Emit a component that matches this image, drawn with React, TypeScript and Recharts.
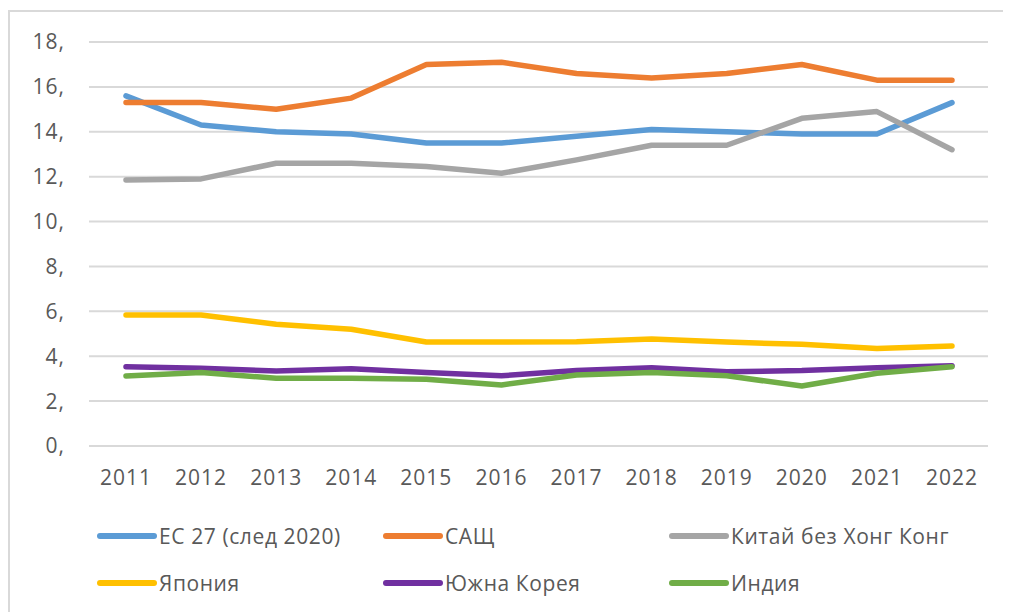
import React from "react";
import { LineChart, Line, XAxis, YAxis, CartesianGrid, Legend } from "recharts";

const years = ["2011", "2012", "2013", "2014", "2015", "2016", "2017", "2018", "2019", "2020", "2021", "2022"];
const eu27 = [15.6, 14.3, 14.0, 13.9, 13.5, 13.5, 13.8, 14.1, 14.0, 13.9, 13.9, 15.3];
const usa = [15.3, 15.3, 15.0, 15.5, 17.0, 17.1, 16.6, 16.4, 16.6, 17.0, 16.3, 16.3];
const china = [11.85, 11.9, 12.6, 12.6, 12.45, 12.15, 12.75, 13.4, 13.4, 14.6, 14.9, 13.2];
const japan = [5.84, 5.84, 5.42, 5.2, 4.63, 4.63, 4.65, 4.77, 4.63, 4.53, 4.34, 4.46];
const korea = [3.53, 3.46, 3.34, 3.44, 3.28, 3.13, 3.36, 3.49, 3.31, 3.36, 3.49, 3.58];
const india = [3.12, 3.27, 3.02, 3.02, 2.97, 2.72, 3.16, 3.28, 3.13, 2.67, 3.24, 3.53];
const yTicks = [0, 2, 4, 6, 8, 10, 12, 14, 16, 18];

const seriesNames = ["ЕС 27 (след 2020)", "САЩ", "Китай без Хонг Конг", "Япония", "Южна Корея", "Индия"];
const seriesKeys = ["eu27", "usa", "china", "japan", "korea", "india"];
const seriesColors = ["#5B9BD5", "#ED7D31", "#A5A5A5", "#FFC000", "#7030A0", "#70AD47"];
const seriesValues = [eu27, usa, china, japan, korea, india];

const data = years.map((y, i) => {
  const row: Record<string, string | number> = { year: y };
  seriesKeys.forEach((k, s) => {
    row[k] = seriesValues[s][i];
  });
  return row;
});

const FONT = "'Open Sans', sans-serif";
const TEXT = "#595959";

const CustomLegend = () => (
  <div style={{ position: "relative", height: 94, fontFamily: FONT }}>
    {seriesNames.map((name, i) => {
      const col = i % 3;
      const row = Math.floor(i / 3);
      return (
        <div
          key={name}
          style={{
            position: "absolute",
            left: 77 + col * 286,
            top: row * 47,
            height: 47,
            display: "flex",
            alignItems: "center",
            whiteSpace: "nowrap",
          }}
        >
          <svg width={62} height={8} style={{ marginRight: 1 }}>
            <line x1={4} y1={4} x2={58} y2={4} stroke={seriesColors[i]} strokeWidth={6} strokeLinecap="round" />
          </svg>
          <span style={{ fontSize: 21, color: TEXT, letterSpacing: 0.6 }}>{name}</span>
        </div>
      );
    })}
  </div>
);

export default function App() {
  return (
    <div
      style={{
        marginTop: 2,
        borderTop: "2px solid #d9d9d9",
        borderLeft: "2px solid #d9d9d9",
        width: 1001,
        height: 600,
        background: "#fff",
      }}
    >
      <LineChart
        width={1001}
        height={600}
        data={data}
        margin={{ top: 30, right: 23, bottom: 6, left: 9 }}
      >
        <CartesianGrid vertical={false} stroke="#d9d9d9" strokeWidth={2} />
        <XAxis
          dataKey="year"
          axisLine={false}
          tickLine={false}
          height={66}
          tickSize={6}
          tickMargin={18}
          padding={{ left: 37, right: 36 }}
          tick={{ fill: TEXT, fontSize: 21, fontFamily: FONT, letterSpacing: 1 }}
          interval={0}
        />
        <YAxis
          domain={[0, 18]}
          ticks={yTicks}
          axisLine={false}
          tickLine={false}
          width={70}
          tickSize={6}
          tickMargin={18}
          tickFormatter={(v: number) => `${v},`}
          tick={{ fill: TEXT, fontSize: 21, fontFamily: FONT, letterSpacing: 1 }}
        />
        {seriesKeys.map((k, i) => (
          <Line
            key={k}
            type="linear"
            dataKey={k}
            name={seriesNames[i]}
            stroke={seriesColors[i]}
            strokeWidth={5.5}
            strokeLinecap="round"
            strokeLinejoin="round"
            dot={false}
            activeDot={false}
            isAnimationActive={false}
          />
        ))}
        <Legend verticalAlign="bottom" height={94} content={<CustomLegend />} />
      </LineChart>
    </div>
  );
}
